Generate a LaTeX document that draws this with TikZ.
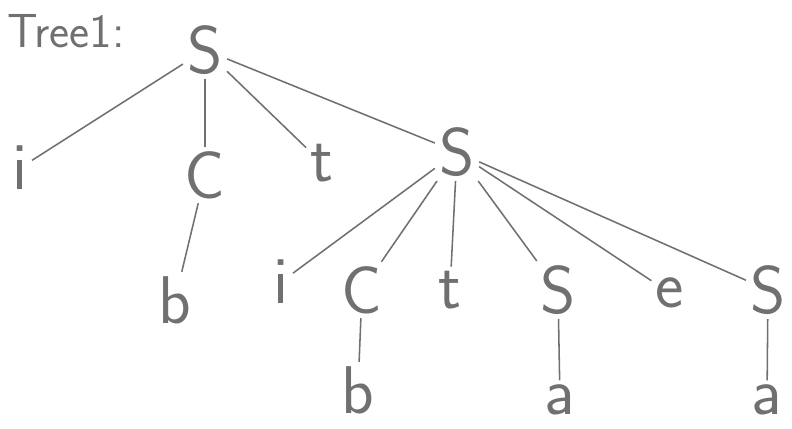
\documentclass[tikz,border=0pt]{standalone}
\usepackage{fontspec}
\definecolor{ink}{RGB}{112,112,112}
\begin{document}
\begin{tikzpicture}[x=0.025cm, y=-0.025cm,
  sym/.style={text=ink, inner sep=3pt, font=\sffamily\fontsize{48}{54}\selectfont},
  edge/.style={draw=ink, line width=1.1pt}]
\useasboundingbox (0,0) rectangle (792,429);
\node[sym, anchor=base west, font=\sffamily\fontsize{34}{40}\selectfont] (title) at (3,47) {Tree1:};
\node[sym] (s1) at (205,50) {S};
\node[sym] (i1) at (20,168) {i};
\node[sym] (c1) at (205,175) {C};
\node[sym] (t1) at (322,163) {t};
\node[sym] (s2) at (457,152) {S};
\node[sym] (b1) at (175,300) {b};
\node[sym] (i2) at (281,282) {i};
\node[sym] (c2) at (362,290) {C};
\node[sym] (t2) at (450,290) {t};
\node[sym] (s3) at (558,290) {S};
\node[sym] (e) at (670,293) {e};
\node[sym] (s4) at (768,290) {S};
\node[sym] (b2) at (358,390) {b};
\node[sym] (a1) at (560,400) {a};
\node[sym] (a2) at (767,400) {a};
\draw[edge] (s1) -- (i1);
\draw[edge] (s1) -- (c1);
\draw[edge] (s1) -- (t1);
\draw[edge] (s1) -- (s2);
\draw[edge] (c1) -- (b1);
\draw[edge] (s2) -- (i2);
\draw[edge] (s2) -- (c2);
\draw[edge] (s2) -- (t2);
\draw[edge] (s2) -- (s3);
\draw[edge] (s2) -- (e);
\draw[edge] (s2) -- (s4);
\draw[edge] (c2) -- (b2);
\draw[edge] (s3) -- (a1);
\draw[edge] (s4) -- (a2);
\end{tikzpicture}
\end{document}
